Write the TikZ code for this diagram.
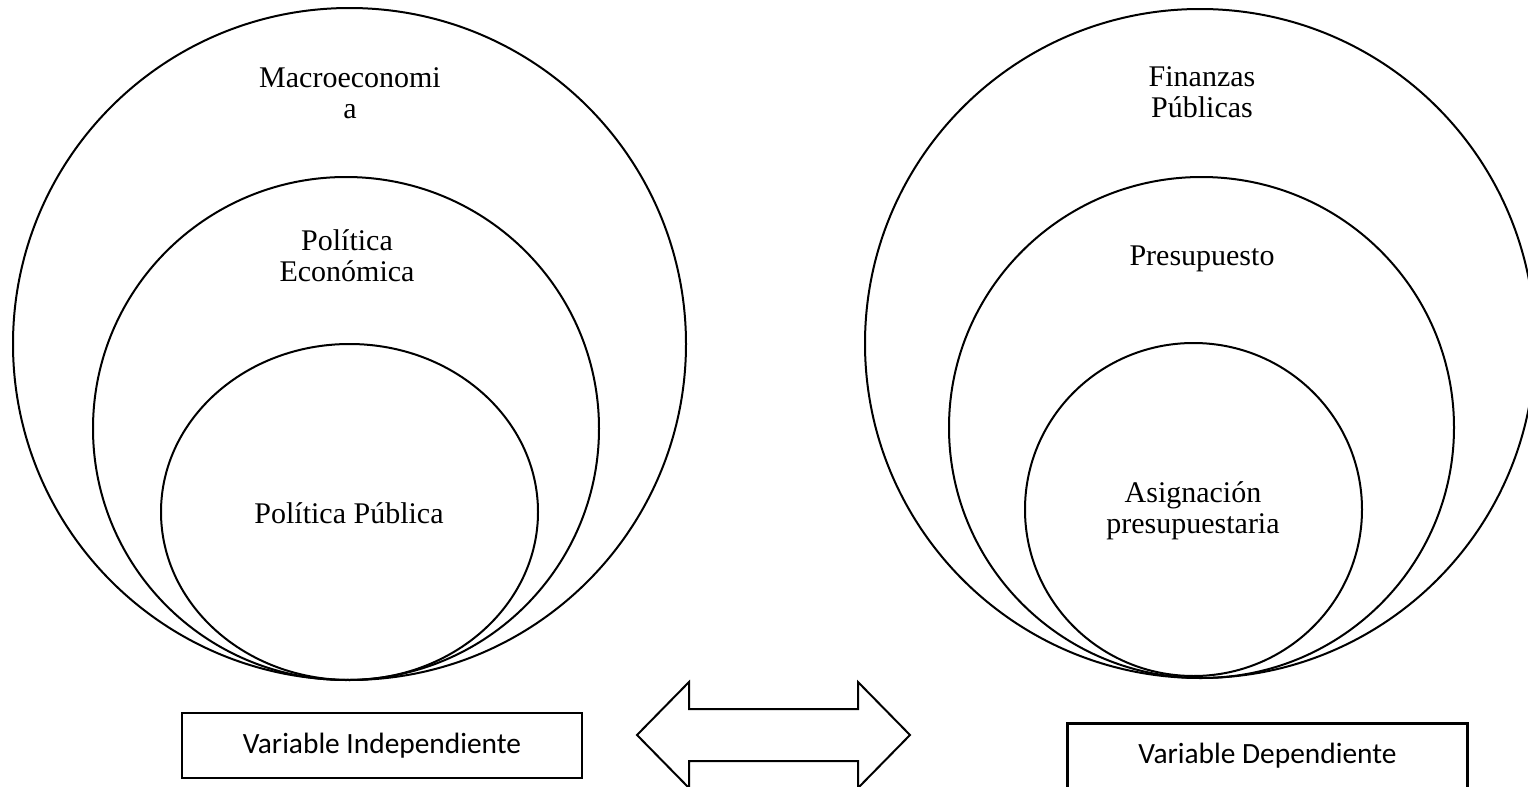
\documentclass[tikz,border=0pt]{standalone}
\usepackage{fontspec}
\setmainfont{Liberation Serif}
\newfontfamily\boxfont{Carlito}
\begin{document}
\begin{tikzpicture}[x=0.5pt,y=-0.5pt,
  ring/.style={line width=1pt},
  lbl/.style={font=\fontsize{15}{15.5}\selectfont, align=center, inner sep=0pt, anchor=base},
  varbox/.style={draw, line width=1.3pt, font=\boxfont\fontsize{14.7}{17}\selectfont,
                 minimum width=200pt, minimum height=32.5pt, inner sep=0pt},
  blockarrow/.style={draw, line width=1pt, line join=miter}]
\useasboundingbox (0,0) rectangle (1528,787);
\clip (0,0) rectangle (1528,787);
\fill[white] (0,0) rectangle (1528,787);
% left set of nested ellipses
\draw[ring] (349.5,344) ellipse [x radius=336.5, y radius=336];
\draw[ring] (346,428.5) ellipse [x radius=253, y radius=251.5];
\draw[ring] (349.5,512) ellipse [x radius=188.5, y radius=168];
% right set of nested ellipses
\draw[ring] (1200,343.5) ellipse [x radius=335, y radius=334.5];
\draw[ring] (1201.5,427.5) ellipse [x radius=252.5, y radius=250.5];
\draw[ring] (1193.5,509.5) ellipse [x radius=168.5, y radius=166.5];
% labels (base anchor = baseline of the last line)
\node[lbl] (macro) at (350,118) {Macroeconomi\\a};
\node[lbl] (poleco) at (347,281) {Política\\Económica};
\node[lbl] (polpub) at (349,523) {Política Pública};
\node[lbl] (finpub) at (1202,117) {Finanzas\\Públicas};
\node[lbl] (presu) at (1202,265) {Presupuesto};
\node[lbl] (asig) at (1193,533) {Asignación\\presupuestaria};
% boxes
\node[varbox] (vi) at (382,745.5) {Variable Independiente};
\node[varbox] (vd) at (1267.5,756) {Variable Dependiente};
% double block arrow
\draw[blockarrow] (637,735) -- (689,682) -- (689,709) -- (858,709) -- (858,682)
  -- (910,735) -- (858,788) -- (858,761) -- (689,761) -- (689,788) -- cycle;
\end{tikzpicture}
\end{document}
